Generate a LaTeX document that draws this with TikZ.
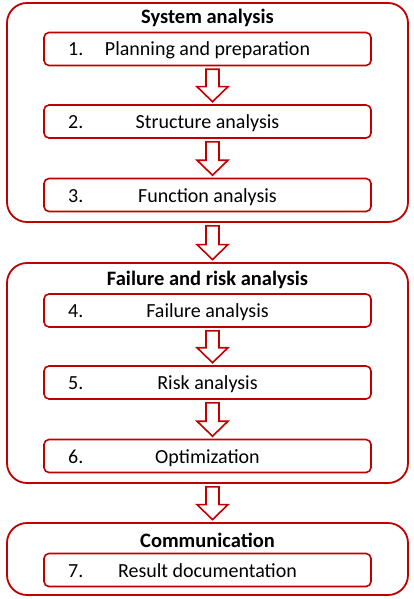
\documentclass[tikz,border=0pt]{standalone}
\usepackage{fontspec}
\setmainfont{Carlito}
\usetikzlibrary{calc}
\definecolor{fmeared}{RGB}{192,0,0}

% hollow block arrow from one node down to the next
\newcommand{\flowarrow}[2]{%
    \draw[blockarrow] let \p1=($(#1.south)+(5,3)$), \p2=($(#2.north)+(5,-2.5)$) in
        (\x1-6.5pt,\y1) -- (\x1+6.5pt,\y1) -- (\x1+6.5pt,\y2+15pt) -- (\x1+15.5pt,\y2+15pt)
        -- (\x1,\y2) -- (\x1-15.5pt,\y2+15pt) -- (\x1-6.5pt,\y2+15pt) -- cycle;%
}

\begin{document}
\begin{tikzpicture}[x=1pt, y=-1pt]
    %
    \tikzset{
        group/.style={draw=fmeared, line width=1.8pt, rounded corners=20pt, minimum width=401pt, inner sep=0pt},
        stepbox/.style={draw=fmeared, line width=1.6pt, rounded corners=5pt, minimum width=327pt, minimum height=33pt, inner sep=0pt, text height=14pt, text depth=0pt, font=\fontsize{20}{24}\selectfont},
        grouptitle/.style={inner sep=0pt, text height=14pt, text depth=0pt, font=\bfseries\fontsize{20.5}{24}\selectfont},
        stepnum/.style={anchor=west, inner sep=0pt, text height=14pt, text depth=0pt, font=\fontsize{20}{24}\selectfont},
        blockarrow/.style={draw=fmeared, fill=white, line width=1.6pt, line join=miter}
    }
    \useasboundingbox (0,0) rectangle (413,599);

    %
    \node[group, minimum height=219pt] (sys) at (207.5,112.5) {};
    \node[group, minimum height=220pt] (fail) at (207.5,373) {};
    \node[group, minimum height=72pt] (comm) at (207.5,559) {};

    %
    \node[grouptitle] (tsys) at (207.5,17) {System analysis};
    \node[grouptitle] (tfail) at (207.5,278) {Failure and risk analysis};
    \node[grouptitle] (tcomm) at (207.5,540) {Communication};

    %
    \foreach \n/\y/\txt in {1/49/Planning and preparation, 2/121.5/Structure analysis,
        3/195/Function analysis, 4/310.5/Failure analysis, 5/382.5/Risk analysis,
        6/456/Optimization, 7/570/Result documentation} {
        \node[stepbox] (s\n) at (207.5,\y) {\txt};
        \node[stepnum] (n\n) at (68,\y) {\n.};
    }

    %
    \foreach \a/\b in {s1/s2, s2/s3, sys/fail, s4/s5, s5/s6, fail/comm} {
        \flowarrow{\a}{\b}
    }

\end{tikzpicture}
\end{document}
